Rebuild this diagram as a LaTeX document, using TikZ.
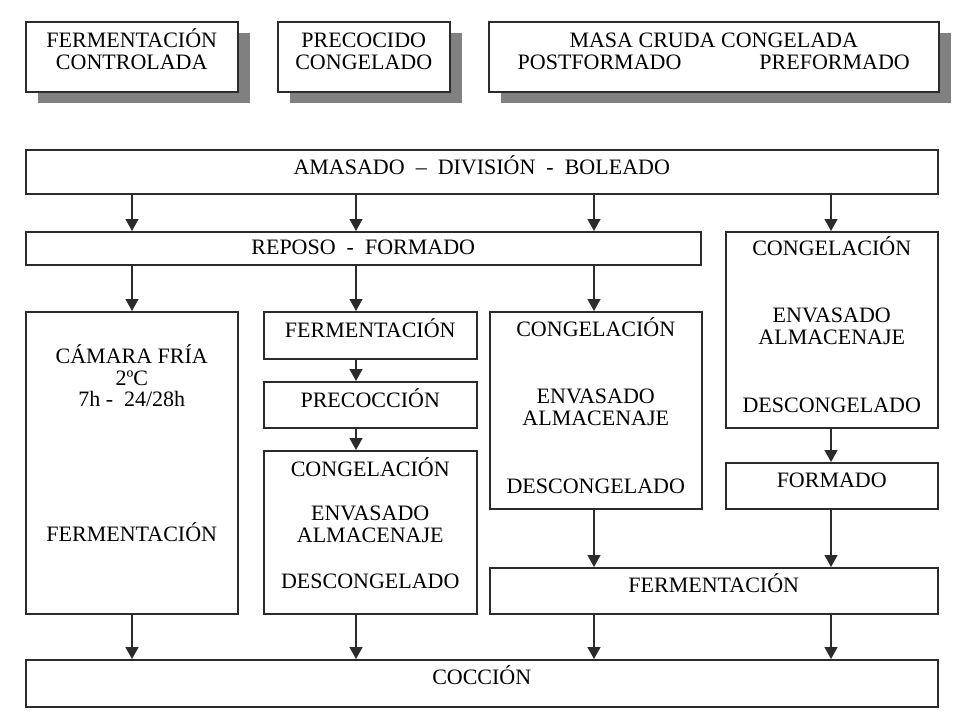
\documentclass[tikz,border=0pt]{standalone}
\usepackage{fontspec}
\setmainfont{Liberation Serif}
\usetikzlibrary{
  positioning, calc, arrows.meta, shadows}
\tikzset{
    Box/.style = {
        rectangle, draw=lineGray, line width=1.5pt, fill=white,
        inner sep=0pt, anchor=north west
    },
    Shadowed/.style = {
        Box,
        general shadow={fill=shadowGray, shadow xshift=12pt, shadow yshift=-11pt}
    },
    Txt/.style = {
        inner sep=0pt, align=center,
        font=\fontsize{22}{21.5}\selectfont
    },
    Arrow/.style = {
        line width=1.5pt, draw=lineGray,
        -{Triangle[length=12pt, width=13pt]}
    }
}
\definecolor{lineGray}{HTML}{2B2B2B}
\definecolor{shadowGray}{HTML}{808080}
% fixed top of the first line, so accents do not move it
\newcommand{\hd}{\rule{0pt}{20pt}}

\begin{document}
\begin{tikzpicture}[x=1pt, y=-1pt]
    \useasboundingbox (0,0) rectangle (960,720);
    % top boxes
    \node[Shadowed, minimum width=212pt, minimum height=70pt] (Ctrl) at (25,21) {};
    \node[Shadowed, minimum width=172pt, minimum height=70pt] (Prec) at (277,21) {};
    \node[Shadowed, minimum width=450pt, minimum height=70pt] (Masa) at (488,21) {};
    \node[Txt, below=6.4pt of Ctrl.north] (tCtrl) {\hd FERMENTACIÓN\\CONTROLADA};
    \node[Txt, below=6.4pt of Prec.north] (tPrec) {\hd PRECOCIDO\\CONGELADO};
    \node[Txt, below=6.4pt of Masa.north] (tMasa) {\hd MASA CRUDA CONGELADA\\POSTFORMADO\hspace{78pt}PREFORMADO};
    % process
    \node[Box, minimum width=912pt, minimum height=44pt] (Amasado) at (25,149) {};
    \node[Box, minimum width=675pt, minimum height=33pt] (Reposo) at (25,231) {};
    \node[Box, minimum width=212pt, minimum height=196pt] (CongD) at (725,231) {};
    \node[Box, minimum width=212pt, minimum height=302pt] (Camara) at (25,311) {};
    \node[Box, minimum width=213pt, minimum height=47pt] (FermA) at (263,311) {};
    \node[Box, minimum width=213pt, minimum height=46pt] (Precoc) at (263,381) {};
    \node[Box, minimum width=213pt, minimum height=163pt] (CongB) at (263,450) {};
    \node[Box, minimum width=212pt, minimum height=197pt] (CongC) at (489,311) {};
    \node[Box, minimum width=212pt, minimum height=46pt] (Formado) at (725,462) {};
    \node[Box, minimum width=448pt, minimum height=46pt] (FermB) at (489,567) {};
    \node[Box, minimum width=912pt, minimum height=47pt] (Coccion) at (25,659) {};

    \node[Txt, below=5.4pt of Amasado.north] (tAmasado) {\hd AMASADO\ \ --\ \ DIVISIÓN\ \ -\ \ BOLEADO};
    \node[Txt, below=3.4pt of Reposo.north] (tReposo) {\hd REPOSO\ \ -\ \ FORMADO};
    \node[Txt, below=4.4pt of CongD.north] (tCongD) {\hd CONGELACIÓN\\[45.5pt]ENVASADO\\ALMACENAJE\\[46.5pt]DESCONGELADO};
    \node[Txt, below=32.4pt of Camara.north] (tCamara) {\hd CÁMARA FRÍA\\2ºC\\7h -\ \ 24/28h\\[113.5pt]FERMENTACIÓN};
    \node[Txt, below=6.4pt of FermA.north] (tFermA) {\hd FERMENTACIÓN};
    \node[Txt, below=6.4pt of Precoc.north] (tPrecoc) {\hd PRECOCCIÓN};
    \node[Txt, below=6.4pt of CongB.north] (tCongB) {\hd CONGELACIÓN\\[22.5pt]ENVASADO\\ALMACENAJE\\[24.5pt]DESCONGELADO};
    \node[Txt, below=5.4pt of CongC.north] (tCongC) {\hd CONGELACIÓN\\[45.5pt]ENVASADO\\ALMACENAJE\\[46.5pt]DESCONGELADO};
    \node[Txt, below=5.4pt of Formado.north] (tFormado) {\hd FORMADO};
    \node[Txt, below=5.4pt of FermB.north] (tFermB) {\hd FERMENTACIÓN};
    \node[Txt, below=5.4pt of Coccion.north] (tCoccion) {\hd COCCIÓN};

    % arrow columns
    \coordinate (c1) at (132,0);
    \coordinate (c2) at (356,0);
    \coordinate (c3) at (594,0);
    \coordinate (c4) at (831,0);

    \draw[Arrow] (Amasado.south -| c1) -- (Reposo.north -| c1);
    \draw[Arrow] (Amasado.south -| c2) -- (Reposo.north -| c2);
    \draw[Arrow] (Amasado.south -| c3) -- (Reposo.north -| c3);
    \draw[Arrow] (Amasado.south -| c4) -- (CongD.north -| c4);
    \draw[Arrow] (Reposo.south -| c1) -- (Camara.north -| c1);
    \draw[Arrow] (Reposo.south -| c2) -- (FermA.north -| c2);
    \draw[Arrow] (Reposo.south -| c3) -- (CongC.north -| c3);
    \draw[Arrow] (FermA.south -| c2) -- (Precoc.north -| c2);
    \draw[Arrow] (Precoc.south -| c2) -- (CongB.north -| c2);
    \draw[Arrow] (CongD.south -| c4) -- (Formado.north -| c4);
    \draw[Arrow] (Formado.south -| c4) -- (FermB.north -| c4);
    \draw[Arrow] (CongC.south -| c3) -- (FermB.north -| c3);
    \draw[Arrow] (Camara.south -| c1) -- (Coccion.north -| c1);
    \draw[Arrow] (CongB.south -| c2) -- (Coccion.north -| c2);
    \draw[Arrow] (FermB.south -| c3) -- (Coccion.north -| c3);
    \draw[Arrow] (FermB.south -| c4) -- (Coccion.north -| c4);
\end{tikzpicture}
\end{document}
